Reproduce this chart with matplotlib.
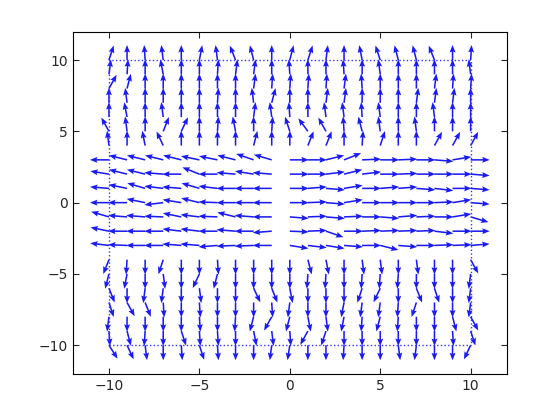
import numpy as np
import matplotlib
matplotlib.use("Agg")
from matplotlib import pyplot as plt

# columnas de la malla
xs = list(range(-10, 11))

# filas de cada zona
y_arriba = [10, 9, 8, 7, 6, 5, 4]
y_medio = [3, 2, 1, 0, -1, -2, -3]
y_abajo = [-4, -5, -6, -7, -8, -9, -10]

# desvio lateral (dx) de las flechas que suben, por fila, x=-10..10
desvio_arriba = [
    [0.25, 0, -0.05, -0.1, 0, 0.15, -0.1, -0.3, -0.2, 0, 0.2, 0.25, 0.1, 0, -0.15, -0.25, -0.2, -0.2, -0.3, 0, 0.05],
    [0.1, 0.05, 0, -0.15, 0, 0, 0.05, 0.1, 0.1, 0, -0.05, 0, 0, -0.05, 0, -0.1, 0, 0, 0, 0, -0.1],
    [0.4, 0.2, 0, 0, 0, 0, 0, 0, 0.1, 0.05, 0.05, 0.05, 0.05, 0.1, -0.05, 0, 0, 0, 0.1, 0.05, 0.05],
    [0, -0.1, 0, 0, 0, 0, 0.05, 0, -0.1, 0.2, 0, 0, 0.1, 0.1, 0, 0, 0, 0.1, 0.1, 0.1, 0],
    [0, -0.15, 0, -0.1, 0, 0, 0, 0, 0.1, -0.1, -0.05, 0, -0.1, -0.1, -0.05, -0.1, 0, 0, -0.1, 0, 0],
    [-0.4, -0.1, 0, 0.3, 0.35, 0, 0.05, -0.15, 0, 0.05, -0.25, -0.5, -0.4, -0.05, -0.2, -0.1, 0, -0.1, 0, 0, 0],
    [-0.1, 0, -0.15, -0.35, 0, 0, 0, 0, 0.2, 0, 0, 0.3, 0.3, 0, 0.05, 0.25, 0, 0, 0.4, 0.4, 0.4],
]

# desvio vertical (dy) de las flechas horizontales, x<0 a la izquierda, x>=0 a la derecha
desvio_medio = [
    [0, 0.3, 0.3, 0.3, 0.3, 0.25, 0.25, 0.3, 0.4, 0.35, 0, 0, 0.3, 0.45, 0.05, 0, 0.05, 0, -0.1, 0.2, 0],
    [0.2, 0.3, 0.3, 0.1, 0, 0.45, 0, 0.1, 0.2, 0.1, 0, 0, 0.15, 0.3, 0.15, 0, 0.05, 0, 0, 0, -0.1],
    [0.1, 0.25, 0.35, 0.15, 0.1, 0.35, 0.15, 0, 0, 0, 0, 0.1, -0.1, 0.2, 0, 0.1, 0.1, -0.1, -0.15, 0, -0.1],
    [0, 0, 0.25, -0.15, 0.2, 0.3, 0.05, 0, 0, 0, 0, 0.05, -0.1, 0.2, 0, 0, 0, 0, 0.05, 0.2, -0.1],
    [0.35, 0.1, 0.1, 0.05, 0.25, 0.15, 0.05, 0.3, 0.1, 0, -0.1, 0.05, -0.1, 0.05, 0, -0.1, 0.1, 0.05, 0, 0.2, -0.35],
    [0.25, 0, 0, 0, 0.15, 0.15, 0, 0.1, 0, -0.1, -0.05, 0.05, -0.4, 0, 0.05, 0.05, 0.05, 0.05, -0.15, 0, 0],
    [0.15, 0.05, 0, 0, 0.1, 0.1, -0.1, -0.05, -0.05, 0, -0.2, -0.15, -0.2, -0.1, 0, -0.3, -0.1, 0, 0.05, 0.05, 0.1],
]

# desvio lateral (dx) de las flechas que bajan
desvio_abajo = [
    [-0.3, -0.05, 0, -0.25, 0, 0, 0.05, 0, 0, 0, 0, 0.2, 0.15, 0, 0.1, 0.1, 0, 0.1, 0, 0, 0.4],
    [-0.2, -0.15, 0, 0.1, 0, -0.35, -0.2, 0, 0, 0, 0, -0.05, -0.05, 0, -0.05, -0.05, -0.05, 0, 0, 0, -0.1],
    [0.3, 0, -0.1, -0.1, 0, 0.1, 0, 0, 0.35, 0.3, 0.15, 0, 0, 0, -0.25, -0.35, 0, 0.3, 0.25, 0, -0.1],
    [0.25, 0.4, 0.3, 0.05, 0, 0.05, 0, 0, 0, 0.05, -0.1, 0, 0, -0.15, -0.1, -0.1, -0.05, -0.25, 0, 0, -0.1],
    [-0.1, 0, 0, 0, 0, 0.05, 0, -0.05, -0.2, -0.4, -0.2, 0.15, 0.1, -0.15, -0.05, -0.2, -0.05, 0, 0, 0.2, 0.4],
    [0.05, 0.2, -0.05, 0, 0.25, 0.05, 0.05, 0, 0.15, 0.1, 0.05, -0.4, -0.25, 0, 0, 0, 0, 0, 0, 0.05, 0.25],
    [0.45, 0.35, 0.1, 0, 0.05, 0.25, 0.05, 0, 0, -0.1, -0.12, 0, 0, -0.05, 0, 0, 0.1, -0.1, 0, 0, -0.35],
]

# marco punteado
marco_x = [-10, 10, 10, -10, -10]
marco_y = [-10, -10, 10, 10, -10]

X, Y, U, V = [], [], [], []
for fila, y in enumerate(y_arriba):
    for i, x in enumerate(xs):
        d = desvio_arriba[fila][i]
        X.append(x); Y.append(y); U.append(d); V.append(np.sqrt(1 - d**2))
for fila, y in enumerate(y_medio):
    for i, x in enumerate(xs):
        d = desvio_medio[fila][i]
        signo = -1 if x < 0 else 1
        X.append(x); Y.append(y); U.append(signo*np.sqrt(1 - d**2)); V.append(d)
for fila, y in enumerate(y_abajo):
    for i, x in enumerate(xs):
        d = desvio_abajo[fila][i]
        X.append(x); Y.append(y); U.append(d); V.append(-np.sqrt(1 - d**2))

fig = plt.figure(figsize=(5.6, 4.2), dpi=100)
ax = fig.add_axes([0.13, 0.11, 0.775, 0.815])

ax.plot(marco_x, marco_y, ':', color=(0.2, 0.2, 1.0), linewidth=1.0)
ax.quiver(X, Y, U, V, angles='xy', scale_units='xy', scale=0.95, color=(0.1, 0.1, 0.95),
          width=0.0036, headwidth=3.8, headlength=4.8, headaxislength=4.2)

ax.set_xlim(-12, 12)
ax.set_ylim(-12, 12)
ax.set_xticks([-10, -5, 0, 5, 10])
ax.set_yticks([-10, -5, 0, 5, 10])
ax.tick_params(direction='in', top=True, right=True, labelsize=10, colors='#262626', length=4)
for s in ax.spines.values():
    s.set_linewidth(0.8)

plt.savefig("out.png", dpi=100)
